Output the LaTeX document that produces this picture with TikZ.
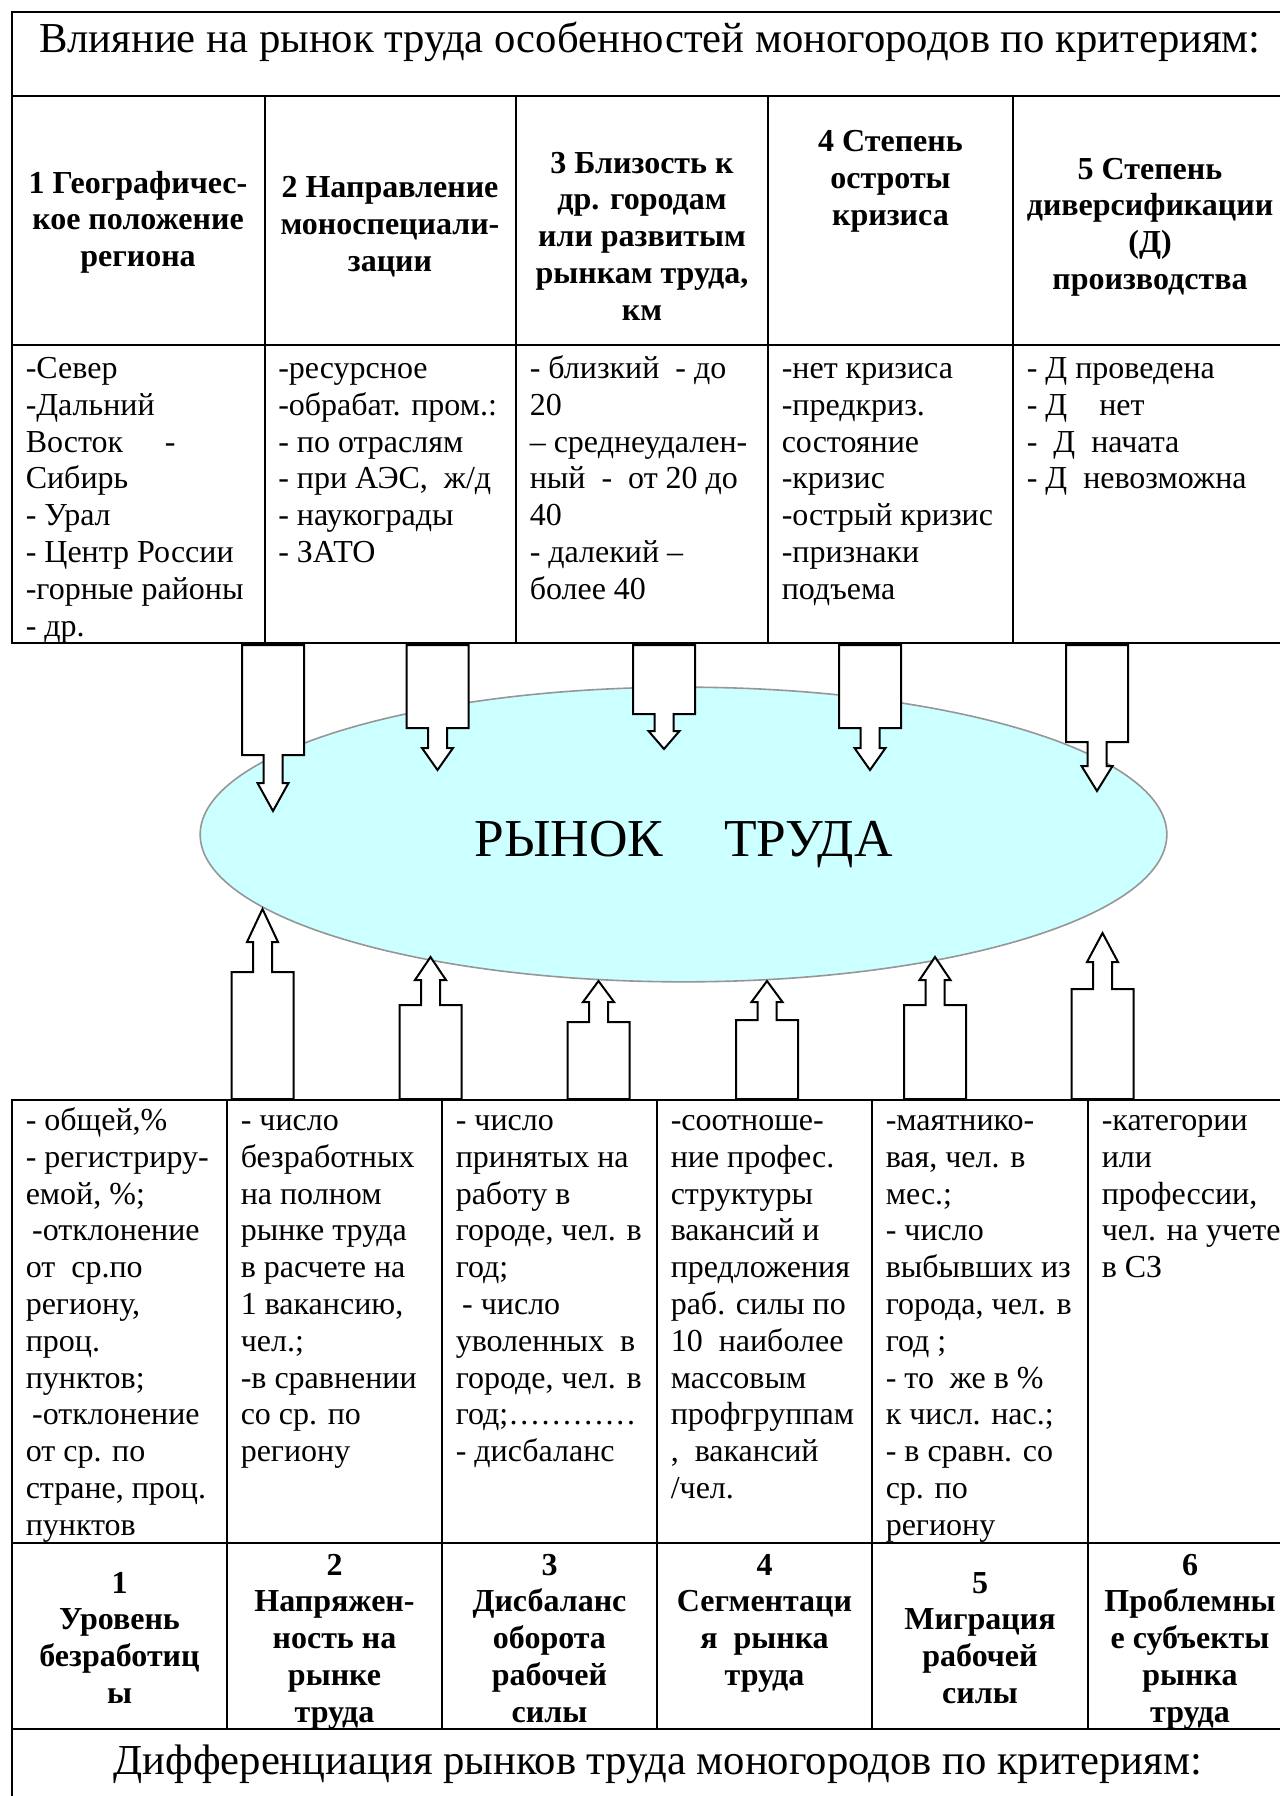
\documentclass[tikz,border=0pt]{standalone}
\usepackage{fontspec}
\setmainfont{Liberation Serif}
\usetikzlibrary{shapes}

\newcommand{\cellfont}{\fontsize{24}{27.6}\selectfont}
\newcommand{\titlefont}{\fontsize{32}{36.8}\selectfont}
\newcommand{\marketfont}{\fontsize{40}{46}\selectfont}

\tikzset{
  gridline/.style={line width=1.5pt, line cap=rect},
  blockarrow/.style={draw=black, fill=white, line width=1.5pt, line join=miter},
  marketoval/.style={ellipse, draw={rgb, 255:red, 150; green, 150; blue, 150 }, fill={rgb, 255:red, 204; green, 255; blue, 255 }, line width=1.2pt, minimum width=725pt, minimum height=221pt, inner sep=0pt},
  celltext/.style={anchor=north west, inner sep=0pt, align=left, font=\cellfont},
  headtext/.style={anchor=north, inner sep=0pt, align=center, font=\cellfont\bfseries},
  titletext/.style={inner sep=0pt, font=\titlefont},
}

\begin{document}
\begin{tikzpicture}[x=0.75pt,y=0.75pt,yscale=-1,xscale=1]
\useasboundingbox (0,0) rectangle (1280,1796);

%Shape: Ellipse [market]
\draw (683.5,834.5) node [marketoval] (market) {};

%Table: upper grid
\draw [gridline] (12,12) -- (1280,12) ;
\draw [gridline] (12,96) -- (1280,96) ;
\draw [gridline] (12,345) -- (1280,345) ;
\draw [gridline] (12,643) -- (1280,643) ;
\draw [gridline] (12,12) -- (12,643) ;
\draw [gridline] (264.5,96) -- (264.5,643) ;
\draw [gridline] (516,96) -- (516,643) ;
\draw [gridline] (768,96) -- (768,643) ;
\draw [gridline] (1013,96) -- (1013,643) ;

%Table: lower grid
\draw [gridline] (12,1100) -- (1280,1100) ;
\draw [gridline] (12,1543) -- (1280,1543) ;
\draw [gridline] (12,1729) -- (1280,1729) ;
\draw [gridline] (12,1100) -- (12,1796) ;
\draw [gridline] (227,1100) -- (227,1729) ;
\draw [gridline] (442,1100) -- (442,1729) ;
\draw [gridline] (657,1100) -- (657,1729) ;
\draw [gridline] (872,1100) -- (872,1729) ;
\draw [gridline] (1088,1100) -- (1088,1729) ;

%Shape: Down Arrow
\draw [blockarrow] (242,645) -- (304,645) -- (304,755) -- (282.5,755) -- (282.5,783) -- (288.5,783) -- (273,811) -- (257.5,783) -- (263.5,783) -- (263.5,755) -- (242,755) -- cycle ;
%Shape: Down Arrow
\draw [blockarrow] (406.5,645) -- (468.5,645) -- (468.5,728) -- (447,728) -- (447,748) -- (453,748) -- (437.5,770) -- (422,748) -- (428,748) -- (428,728) -- (406.5,728) -- cycle ;
%Shape: Down Arrow
\draw [blockarrow] (633,645) -- (695,645) -- (695,714) -- (673.5,714) -- (673.5,731) -- (679.5,731) -- (664,749) -- (648.5,731) -- (654.5,731) -- (654.5,714) -- (633,714) -- cycle ;
%Shape: Down Arrow
\draw [blockarrow] (839,645) -- (901,645) -- (901,728) -- (879.5,728) -- (879.5,748) -- (885.5,748) -- (870,770) -- (854.5,748) -- (860.5,748) -- (860.5,728) -- (839,728) -- cycle ;
%Shape: Down Arrow
\draw [blockarrow] (1066,645) -- (1128,645) -- (1128,742) -- (1106.5,742) -- (1106.5,766) -- (1112.5,766) -- (1097,791) -- (1081.5,766) -- (1087.5,766) -- (1087.5,742) -- (1066,742) -- cycle ;

%Shape: Up Arrow
\draw [blockarrow] (231.5,1099) -- (293.5,1099) -- (293.5,972) -- (272,972) -- (272,942) -- (278,942) -- (262.5,909) -- (247,942) -- (253,942) -- (253,972) -- (231.5,972) -- cycle ;
%Shape: Up Arrow
\draw [blockarrow] (399.5,1099) -- (461.5,1099) -- (461.5,1005) -- (440,1005) -- (440,980) -- (446,980) -- (430.5,957) -- (415,980) -- (421,980) -- (421,1005) -- (399.5,1005) -- cycle ;
%Shape: Up Arrow
\draw [blockarrow] (567.5,1099) -- (629.5,1099) -- (629.5,1022) -- (608,1022) -- (608,1002) -- (614,1002) -- (598.5,981) -- (583,1002) -- (589,1002) -- (589,1022) -- (567.5,1022) -- cycle ;
%Shape: Up Arrow
\draw [blockarrow] (736,1099) -- (798,1099) -- (798,1020) -- (776.5,1020) -- (776.5,1002) -- (782.5,1002) -- (767,981) -- (751.5,1002) -- (757.5,1002) -- (757.5,1020) -- (736,1020) -- cycle ;
%Shape: Up Arrow
\draw [blockarrow] (904,1099) -- (966,1099) -- (966,1005) -- (944.5,1005) -- (944.5,980) -- (950.5,980) -- (935,957) -- (919.5,980) -- (925.5,980) -- (925.5,1005) -- (904,1005) -- cycle ;
%Shape: Up Arrow
\draw [blockarrow] (1071.5,1099) -- (1133.5,1099) -- (1133.5,989) -- (1112,989) -- (1112,962) -- (1118,962) -- (1102.5,933) -- (1087,962) -- (1093,962) -- (1093,989) -- (1071.5,989) -- cycle ;

% Text Node
\draw (650,42) node [titletext] (topTitle) {Влияние на рынок труда особенностей моногородов по критериям:};
% Text Node
\draw (138,167) node [headtext] (geoHead) {\strut 1 Географичес-\\кое положение\\региона};
% Text Node
\draw (390,171.5) node [headtext] (specHead) {\strut 2 Направление\\моноспециали-\\зации};
% Text Node
\draw (642,147) node [headtext] (nearHead) {\strut 3 Близость к\\др. городам\\или развитым\\рынкам труда,\\км};
% Text Node
\draw (890.5,125.5) node [headtext] (crisisHead) {\strut 4 Степень\\остроты\\кризиса};
% Text Node
\draw (1150,153) node [headtext] (diversHead) {\strut 5 Степень\\диверсификации\\(Д)\\производства};
% Text Node
\draw (25.5,352.5) node [celltext] (geoList) {\strut -Север\\-Дальний\\Восток\hspace{1.3em}-\\Сибирь\\- Урал\\- Центр России\\-горные районы\\- др.};
% Text Node
\draw (278,352.5) node [celltext] (specList) {\strut -ресурсное\\-обрабат. пром.:\\- по отраслям\\- при АЭС,\ \ ж/д\\- наукограды\\- ЗАТО};
% Text Node
\draw (529.5,352.5) node [celltext] (nearList) {\strut - близкий\ \ - до\\20\\– среднеудален-\\ный\ \ -\ \ от 20 до\\40\\- далекий –\\более 40};
% Text Node
\draw (781.5,352.5) node [celltext] (crisisList) {\strut -нет кризиса\\-предкриз.\\состояние\\-кризис\\-острый кризис\\-признаки\\подъема};
% Text Node
\draw (1026.5,352.5) node [celltext] (diversList) {\strut - Д проведена\\- Д\hspace{1em}нет\\-\ \ Д\ \ начата\\- Д\ \ невозможна};

% Text Node
\draw (683.5,856) node [anchor=base, inner sep=0pt, font=\marketfont] (marketLabel) {РЫНОК\hspace{1.15em}ТРУДА};

% Text Node
\draw (25.5,1104.5) node [celltext] (unempList) {\strut - общей,\%\\- регистриру-\\емой, \%;\\\hspace*{0.2em}-отклонение\\от\ \ ср.по\\региону,\\проц.\\пунктов;\\\hspace*{0.2em}-отклонение\\от ср. по\\стране, проц.\\пунктов};
% Text Node
\draw (240.5,1104.5) node [celltext] (tensionList) {\strut - число\\безработных\\на полном\\рынке труда\\в расчете на\\1 вакансию,\\чел.;\\-в сравнении\\со ср. по\\региону};
% Text Node
\draw (455.5,1104.5) node [celltext] (turnoverList) {\strut - число\\принятых на\\работу в\\городе, чел. в\\год;\\\hspace*{0.2em}- число\\уволенных\ \ в\\городе, чел. в\\год;…………\\- дисбаланс};
% Text Node
\draw (670.5,1104.5) node [celltext] (segmentList) {\strut -соотноше-\\ние профес.\\структуры\\вакансий и\\предложения\\раб. силы по\\10\ \ наиболее\\массовым\\профгруппам\\,\ \ вакансий\\/чел.};
% Text Node
\draw (885.5,1104.5) node [celltext] (migrationList) {\strut -маятнико-\\вая, чел. в\\мес.;\\- число\\выбывших из\\города, чел. в\\год ;\\- то\ \ же в \%\\к числ. нас.;\\- в сравн. со\\ср. по\\региону};
% Text Node
\draw (1101.5,1104.5) node [celltext] (problemList) {\strut -категории\\или\\профессии,\\чел. на учете\\в СЗ};

% Text Node
\draw (119.5,1567) node [headtext] (unempHead) {\strut 1\\Уровень\\безработиц\\ы};
% Text Node
\draw (334.5,1549) node [headtext] (tensionHead) {\strut 2\\Напряжен-\\ность на\\рынке\\труда};
% Text Node
\draw (549.5,1549) node [headtext] (turnoverHead) {\strut 3\\Дисбаланс\\оборота\\рабочей\\силы};
% Text Node
\draw (764.5,1549) node [headtext] (segmentHead) {\strut 4\\Сегментаци\\я\ \ рынка\\труда};
% Text Node
\draw (980,1567) node [headtext] (migrationHead) {\strut 5\\Миграция\\рабочей\\силы};
% Text Node
\draw (1190,1549) node [headtext] (problemHead) {\strut 6\\Проблемны\\е субъекты\\рынка\\труда};
% Text Node
\draw (658,1764) node [titletext] (bottomTitle) {Дифференциация рынков труда моногородов по критериям:};

\end{tikzpicture}
\end{document}
